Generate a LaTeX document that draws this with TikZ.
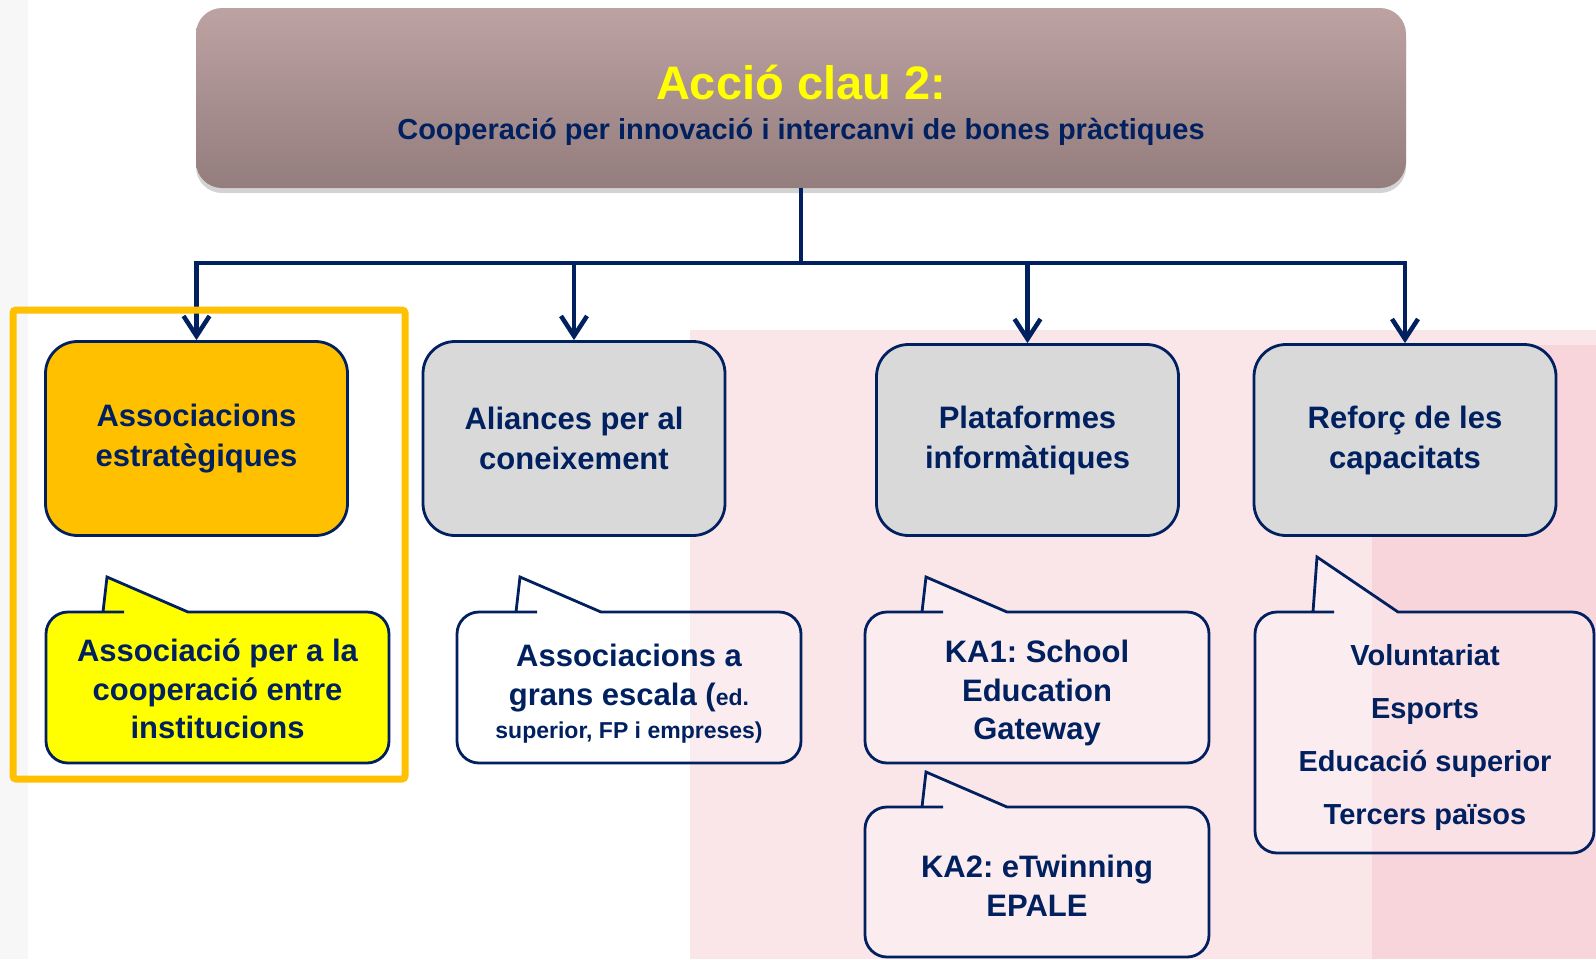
\documentclass[tikz,border=0pt]{standalone}
\usepackage{fontspec}
\setmainfont{Liberation Sans}
\usepackage{xcolor}
\usetikzlibrary{positioning,arrows.meta,shadows}
\frenchspacing

\definecolor{navy}{HTML}{002060}
\definecolor{keyorange}{HTML}{FFC000}
\definecolor{keygray}{HTML}{D9D9D9}
\definecolor{keyyellow}{HTML}{FFFF00}
\definecolor{mauvetop}{HTML}{BDA2A2}
\definecolor{mauvebot}{HTML}{947D7D}
\definecolor{wmpink}{HTML}{F7D5DA}

\tikzset{
  boxnode/.style={draw=navy, line width=2.8pt, rounded corners=32pt,
    minimum width=302pt, minimum height=194pt, align=center, text=navy,
    font=\bfseries\fontsize{31}{40}\selectfont},
  bubbleline/.style={draw=navy, line width=2.8pt},
  bubbletext/.style={align=center, text=navy, font=\bfseries\fontsize{31}{38.5}\selectfont},
  flow/.style={draw=navy, line width=4.5pt},
}

% callout outline: left, top, right, bottom, tail x, tail tip y, fill options
\newcommand{\bubble}[7]{%
  \draw[bubbleline, #7, rounded corners=22pt]
    (#5+85,#2) -- (#3,#2) -- (#3,#4) -- (#1,#4) -- (#1,#2) -- (#5-1,#2)
    [sharp corners] -- (#5,#2) -- (#5+4,#6) -- cycle;}

\begin{document}
\begin{tikzpicture}[x=1pt, y=-1pt, >={Straight Barb[length=20pt,width=26pt]}]
    \useasboundingbox (0,0) rectangle (1596,959);

    % faded watermark behind the chart
    \fill[black, opacity=0.03] (0,0) rectangle (28,959);
    \fill[wmpink, opacity=0.6] (690,330) rectangle (1596,959);
    \fill[wmpink] (1372,345) rectangle (1596,959);

    % Key action header
    \node[rounded corners=26pt, top color=mauvetop, bottom color=mauvebot,
          drop shadow={shadow xshift=0pt, shadow yshift=-5pt, opacity=0.35},
          minimum width=1210pt, minimum height=180pt, align=center,
          text=navy, font=\bfseries\fontsize{29}{40}\selectfont] (key) at (801,98)
        {\rule{0pt}{50pt}{\fontsize{47}{47}\selectfont\color{keyyellow}Acció clau 2:}\\
         Cooperació per innovació i intercanvi de bones pràctiques};

    % The four actions
    \node[boxnode, fill=keyorange] (b1) at (196.5,438.5) {Associacions\\estratègiques};
    \node[boxnode, fill=keygray] (b2) at (574,438.5) {Aliances per al\\coneixement};
    \node[boxnode, fill=keygray, minimum height=191pt] (b3) at (1027.5,440) {Plataformes\\informàtiques};
    \node[boxnode, fill=keygray, minimum height=191pt] (b4) at (1405,440) {Reforç de les\\capacitats};

    % Tree connectors
    \coordinate (bar) at (801,263);
    \draw[flow] (key.south) -- (bar);
    \draw[flow, line cap=rect] (b1 |- bar) -- (b4 |- bar);
    \foreach \b in {b1,b2,b3,b4}
        \draw[flow, ->] (\b |- bar) -- (\b.north);

    % Highlight frame
    \draw[keyorange, line width=7pt, rounded corners=3pt] (13,310) rectangle (405,779);

    % Callouts
    \bubble{46}{612}{389}{763}{103}{577}{fill=keyyellow}
    \node[bubbletext] (assoc) at (217.5,689) {Associació per a la\\cooperació entre\\institucions};

    \bubble{457}{612}{801}{763}{516}{577}{fill=white, fill opacity=0.3}
    \node[bubbletext] (grans) at (629,694)
        {Associacions a\\grans escala ({\fontsize{23}{28}\selectfont ed.}\\[-5pt]
         {\fontsize{23}{28}\selectfont superior, FP i empreses)}};

    \bubble{865}{612}{1209}{763}{922}{577}{fill=white, fill opacity=0.3}
    \node[bubbletext] (ka1) at (1037,693) {KA1: School\\Education\\Gateway};

    \bubble{865}{807}{1209}{957}{922}{772}{fill=white, fill opacity=0.3}
    \node[bubbletext] (ka2) at (1037,886) {KA2: eTwinning\\EPALE};

    \bubble{1255}{612}{1594}{853}{1313}{557}{fill=white, fill opacity=0.3}
    \node[bubbletext, font=\bfseries\fontsize{29}{53}\selectfont] (reforc) at (1425,737)
        {Voluntariat\\Esports\\Educació superior\\Tercers països};

\end{tikzpicture}
\end{document}
